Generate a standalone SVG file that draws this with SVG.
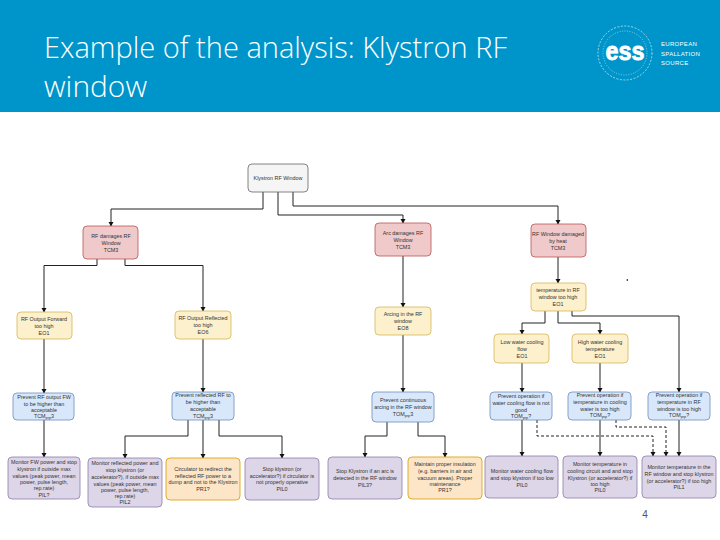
<svg xmlns="http://www.w3.org/2000/svg" width="720" height="540" viewBox="0 0 720 540">
<style>
.n rect{rx:4px;ry:4px;stroke-width:.8}
.n text{font:5.4px "Liberation Sans",Arial,sans-serif;fill:#333;text-anchor:middle}
.r rect{fill:#f0caca;stroke:#b85450}
.y rect{fill:#fdf0cc;stroke:#d6b656}
.b rect{fill:#d8e8fa;stroke:#6c8ebf}
.p rect{fill:#ddd6e8;stroke:#8e7cab}
.o rect{fill:#fde6c8;stroke:#d79b00}
.g rect{fill:#f5f5f5;stroke:#666}
.c path{fill:none;stroke:#222;stroke-width:1;marker-end:url(#a)}
.c .d{stroke-dasharray:3 2}
.t{font:300 29px "Open Sans","Noto Sans",sans-serif;fill:#fff}
.l{font:6px "Liberation Sans",Arial,sans-serif;fill:#fff;letter-spacing:.3px}
.s{font-size:3.8px}
</style>
<defs><marker id="a" markerUnits="userSpaceOnUse" markerWidth="6" markerHeight="6" refX="4" refY="2.5" orient="auto"><path d="M0 0L4.5 2.5L0 5z" fill="#111"/></marker></defs>
<rect width="720" height="540" fill="#fff"/>
<rect id="header" width="720" height="112" fill="#0095ca"/>
<text class="t" x="44" y="58" textLength="463" lengthAdjust="spacingAndGlyphs">Example of the analysis: Klystron RF</text>
<text class="t" x="44" y="97" textLength="103" lengthAdjust="spacingAndGlyphs">window</text>
<g id="logo" fill="none" stroke="#fff">
<circle cx="625" cy="53" r="27" stroke-width=".6" stroke-dasharray="2 1.5"/>
<circle cx="625" cy="53" r="22" stroke-width=".5" stroke-dasharray="1 1.5"/>
<text x="625" y="60" fill="#fff" stroke="#fff" stroke-width=".8" text-anchor="middle" font-family="Liberation Sans,sans-serif" font-weight="700" font-size="25" textLength="39" lengthAdjust="spacingAndGlyphs">ess</text>
</g>
<text class="l" x="661" y="45.500">EUROPEAN</text>
<text class="l" x="661" y="55.500">SPALLATION</text>
<text class="l" x="661" y="65">SOURCE</text>
<g id="connectors" class="c">
<path d="M263 192V209H111V226"/>
<path d="M278 192V215H403V223"/>
<path d="M293 192V206H558V224"/>
<path d="M97 259V265.500H44V312"/>
<path d="M125 259V265.500H203V311"/>
<path d="M44 339V393"/>
<path d="M203 339V392"/>
<path d="M403 256V307"/>
<path d="M403 335V392"/>
<path d="M558 257V283"/>
<path d="M545 311V323H522V334"/>
<path d="M558 311V323H600V334"/>
<path d="M572 311V316H679V392"/>
<path d="M522 363V392"/>
<path d="M600 363V392"/>
<path d="M44 420V457"/>
<path d="M188 420V436H125V458"/>
<path d="M203 420V458"/>
<path d="M219 420V436H282V458"/>
<path d="M387 422V436H365V457"/>
<path d="M418 422V436H445V457"/>
<path d="M522 420V456"/>
<path d="M600 420V456"/>
<path d="M679 420V456"/>
<path class="d" d="M537 420V436H653V456"/>
<path class="d" d="M616 420V427H666V456"/>
</g>
<path id="mark" d="M626 280L628 279V281z" fill="#111"/>
<g id="n1" class="n g"><rect x="248" y="164" width="60" height="28"/><text x="278" y="180">Klystron RF Window</text></g>
<g id="n2" class="n r"><rect x="83" y="226" width="55" height="33"/><text x="111" y="238">RF damages RF</text><text x="111" y="245">Window</text><text x="111" y="252">TCM3</text></g>
<g id="n3" class="n r"><rect x="375" y="223" width="56" height="33"/><text x="403" y="235">Arc damages RF</text><text x="403" y="242">Window</text><text x="403" y="249">TCM3</text></g>
<g id="n4" class="n r"><rect x="531" y="224" width="55" height="33"/><text x="558" y="236">RF Window damaged</text><text x="558" y="243">by heat</text><text x="558" y="250">TCM3</text></g>
<g id="n5" class="n y"><rect x="17" y="312" width="55" height="27"/><text x="44" y="321">RF Output Forward</text><text x="44" y="328">too high</text><text x="44" y="335">EO1</text></g>
<g id="n6" class="n y"><rect x="175" y="311" width="56" height="28"/><text x="203" y="320">RF Output Reflected</text><text x="203" y="327">too high</text><text x="203" y="334">EO6</text></g>
<g id="n7" class="n y"><rect x="375" y="307" width="56" height="28"/><text x="403" y="316">Arcing in the RF</text><text x="403" y="323">window</text><text x="403" y="330">EO8</text></g>
<g id="n8" class="n y"><rect x="531" y="283" width="55" height="28"/><text x="558" y="292">temperature in RF</text><text x="558" y="299">window too high</text><text x="558" y="306">EO1</text></g>
<g id="n9" class="n y"><rect x="494" y="334" width="55" height="29"/><text x="522" y="344">Low water cooling</text><text x="522" y="351">flow</text><text x="522" y="358">EO1</text></g>
<g id="n10" class="n y"><rect x="572" y="334" width="56" height="29"/><text x="600" y="344">High water cooling</text><text x="600" y="351">temperature</text><text x="600" y="358">EO1</text></g>
<g id="n11" class="n b"><rect x="13" y="393" width="61" height="27"/><text x="44" y="399">Prevent RF output FW</text><text x="44" y="406">to be higher than</text><text x="44" y="412">acceptable</text><text x="44" y="418">TCM<tspan class="s" dy="1">prp</tspan><tspan dy="-1">3</tspan></text></g>
<g id="n12" class="n b"><rect x="172" y="392" width="62" height="28"/><text x="203" y="397">Prevent reflected RF to</text><text x="203" y="404">be higher than</text><text x="203" y="411">acceptable</text><text x="203" y="418">TCM<tspan class="s" dy="1">prp</tspan><tspan dy="-1">3</tspan></text></g>
<g id="n13" class="n b"><rect x="372" y="392" width="62" height="30"/><text x="403" y="402">Prevent continuous</text><text x="403" y="409">arcing in the RF window</text><text x="403" y="416">TOM<tspan class="s" dy="1">prp</tspan><tspan dy="-1">3</tspan></text></g>
<g id="n14" class="n b"><rect x="490" y="392" width="62" height="28"/><text x="521" y="398">Prevent operation if</text><text x="521" y="405">water cooling flow is not</text><text x="521" y="412">good</text><text x="521" y="418">TOM<tspan class="s" dy="1">prp</tspan><tspan dy="-1">?</tspan></text></g>
<g id="n15" class="n b"><rect x="568" y="392" width="63" height="28"/><text x="600" y="397">Prevent operation if</text><text x="600" y="404">temperature in cooling</text><text x="600" y="411">water is too high</text><text x="600" y="417">TOM<tspan class="s" dy="1">prp</tspan><tspan dy="-1">?</tspan></text></g>
<g id="n16" class="n b"><rect x="648" y="392" width="62" height="28"/><text x="679" y="397">Prevent operation if</text><text x="679" y="404">temperature in RF</text><text x="679" y="411">window is too high</text><text x="679" y="417">TOM<tspan class="s" dy="1">prp</tspan><tspan dy="-1">?</tspan></text></g>
<g id="n17" class="n p"><rect x="8" y="457" width="72" height="42"/><text x="44" y="464">Monitor FW power and stop</text><text x="44" y="471">klystron if outside max</text><text x="44" y="478">values (peak power, mean</text><text x="44" y="484">power, pulse length,</text><text x="44" y="490">rep.rate)</text><text x="44" y="497">PIL?</text></g>
<g id="n18" class="n p"><rect x="88" y="458" width="74" height="49"/><text x="125" y="465">Monitor reflected power and</text><text x="125" y="472">stop klystron (or</text><text x="125" y="479">accelerator?), if outside max</text><text x="125" y="486">values (peak power, mean</text><text x="125" y="492">power, pulse length,</text><text x="125" y="498">rep.rate)</text><text x="125" y="504">PIL2</text></g>
<g id="n19" class="n o"><rect x="166" y="458" width="74" height="42"/><text x="203" y="471">Circulator to redirect the</text><text x="203" y="478">reflected RF power to a</text><text x="203" y="484">dump and not to the Klystron</text><text x="203" y="491">PR1?</text></g>
<g id="n20" class="n p"><rect x="245" y="458" width="74" height="42"/><text x="282" y="471">Stop klystron (or</text><text x="282" y="478">accelerator?) if circulator is</text><text x="282" y="484">not properly operative</text><text x="282" y="491">PIL0</text></g>
<g id="n21" class="n p"><rect x="328" y="457" width="74" height="42"/><text x="365" y="473">Stop Klystron if an arc is</text><text x="365" y="480">detected in the RF window</text><text x="365" y="487">PIL3?</text></g>
<g id="n22" class="n o"><rect x="408" y="457" width="74" height="42"/><text x="445" y="466">Maintain proper insulation</text><text x="445" y="473">(e.g. barriers in air and</text><text x="445" y="480">vacuum areas). Proper</text><text x="445" y="486">maintenance</text><text x="445" y="492">PR1?</text></g>
<g id="n23" class="n p"><rect x="485" y="456" width="73" height="42"/><text x="522" y="473">Monitor water cooling flow</text><text x="522" y="480">and stop klystron if too low</text><text x="522" y="487">PIL0</text></g>
<g id="n24" class="n p"><rect x="563" y="456" width="74" height="42"/><text x="600" y="466">Monitor temperature in</text><text x="600" y="473">cooling circuit and and stop</text><text x="600" y="480">Klystron (or accelerator?) if</text><text x="600" y="486">too high</text><text x="600" y="492">PIL0</text></g>
<g id="n25" class="n p"><rect x="642" y="456" width="74" height="42"/><text x="679" y="469">Monitor temperature in the</text><text x="679" y="476">RF window and stop klystron</text><text x="679" y="483">(or accelerator?) if too high</text><text x="679" y="489">PIL1</text></g>
<text id="page" x="645" y="518" font-family="Liberation Sans,sans-serif" font-size="10" fill="#555" text-anchor="middle">4</text>
</svg>
